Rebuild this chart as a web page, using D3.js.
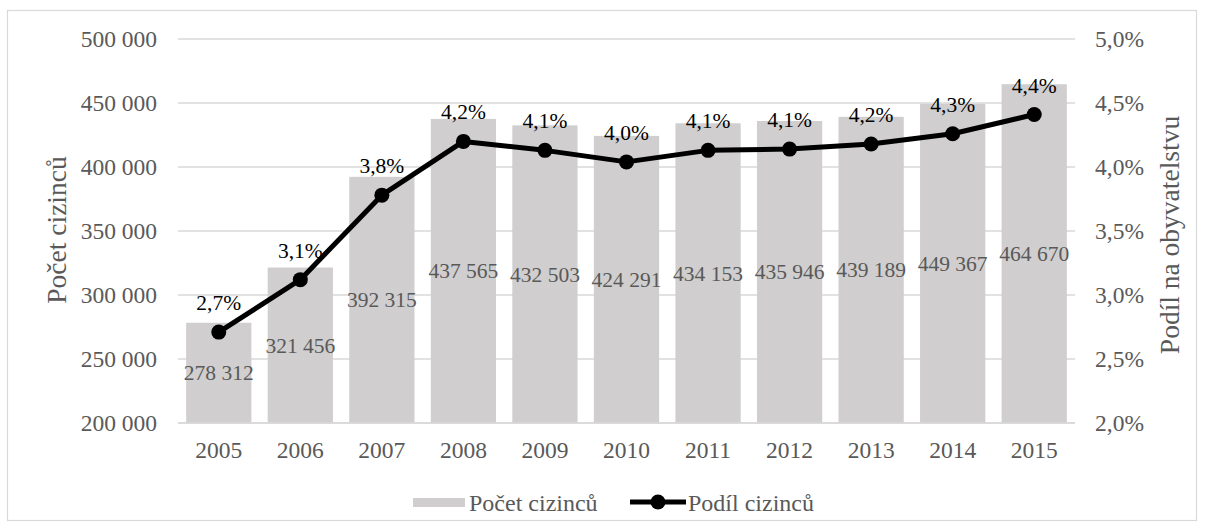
<!DOCTYPE html>
<html><head><meta charset="utf-8">
<script src="https://cdn.jsdelivr.net/npm/d3@7"></script>
<style>
body{margin:0;background:#fff;}
svg, svg text{font-family:'Liberation Serif','Tinos','Times New Roman','Times','Nimbus Roman','Nimbus Roman No9 L','FreeSerif','Noto Serif','DejaVu Serif',serif !important;}
</style></head>
<body><svg id="c" width="1205" height="530"></svg>
<script>
const years = ["2005","2006","2007","2008","2009","2010","2011","2012","2013","2014","2015"];
const counts = [278312,321456,392315,437565,432503,424291,434153,435946,439189,449367,464670];
const shares = [2.71,3.12,3.78,4.20,4.13,4.04,4.13,4.14,4.18,4.26,4.41];
const leftTicks = [200000,250000,300000,350000,400000,450000,500000];
const rightTicks = [2.0,2.5,3.0,3.5,4.0,4.5,5.0];
const barName = "Počet cizinců", lineName = "Podíl cizinců";
const leftTitle = "Počet cizinců", rightTitle = "Podíl na obyvatelstvu";

const svg = d3.select("#c");
const L = 178, R = 1075, T = 39, B = 423;
svg.append("rect").attr("x",7.5).attr("y",10.5).attr("width",1189).attr("height",510)
  .attr("fill","#fff").attr("stroke","#d9d9d9").attr("stroke-width",1.2);

const x = d3.scaleBand().domain(years).range([L,R]).paddingInner(0.2).paddingOuter(0.1);
const yL = d3.scaleLinear().domain([200000,500000]).range([B,T]);
const yR = d3.scaleLinear().domain([2,5]).range([B,T]);
const sp = s => s.replace(/,/g," ");
const fmtN = n => sp(d3.format(",")(n));
const fmtP = (v,d) => d3.format("."+d+"f")(v).replace(".",",")+"%";

svg.append("g").selectAll("line").data(leftTicks).join("line")
  .attr("x1",L).attr("x2",R).attr("y1",d=>yL(d)).attr("y2",d=>yL(d))
  .attr("stroke","#d9d9d9").attr("stroke-width",1.3);

const ax = svg.append("g").attr("transform",`translate(${L},0)`)
  .call(d3.axisLeft(yL).tickValues(leftTicks).tickSize(0).tickPadding(21).tickFormat(fmtN));
ax.select(".domain").remove();
ax.selectAll("text").attr("font-size",23.5).attr("fill","#595959");

const ar = svg.append("g").attr("transform",`translate(${R},0)`)
  .call(d3.axisRight(yR).tickValues(rightTicks).tickSize(0).tickPadding(20).tickFormat(d=>fmtP(d,1)));
ar.select(".domain").remove();
ar.selectAll("text").attr("font-size",23.5).attr("fill","#595959");

svg.append("g").selectAll("rect").data(counts).join("rect")
  .attr("x",(d,i)=>x(years[i])).attr("width",x.bandwidth())
  .attr("y",d=>yL(d)).attr("height",d=>B-yL(d)).attr("fill","#d0cece");

svg.append("line").attr("x1",L).attr("x2",R).attr("y1",B).attr("y2",B)
  .attr("stroke","#d9d9d9").attr("stroke-width",1.3);

const ab = svg.append("g").attr("transform",`translate(0,${B})`)
  .call(d3.axisBottom(x).tickSize(0).tickPadding(18));
ab.select(".domain").remove();
ab.selectAll("text").attr("font-size",23.5).attr("fill","#595959");

svg.append("g").selectAll("text").data(counts).join("text")
  .attr("x",(d,i)=>x(years[i])+x.bandwidth()/2).attr("y",d=>(yL(d)+B)/2+7.5)
  .attr("text-anchor","middle").attr("font-size",21.5).attr("fill","#595959")
  .text(fmtN);

const cx = i => x(years[i])+x.bandwidth()/2;
svg.append("path").datum(shares)
  .attr("d",d3.line().x((d,i)=>cx(i)).y(d=>yR(d)))
  .attr("fill","none").attr("stroke","#000").attr("stroke-width",5).attr("stroke-linejoin","round");
svg.append("g").selectAll("circle").data(shares).join("circle")
  .attr("cx",(d,i)=>cx(i)).attr("cy",d=>yR(d)).attr("r",7.5).attr("fill","#000");
svg.append("g").selectAll("text").data(shares).join("text")
  .attr("x",(d,i)=>cx(i)).attr("y",d=>yR(d)-22)
  .attr("text-anchor","middle").attr("font-size",21.5).attr("fill","#000")
  .text(d=>fmtP(d,1));

svg.append("text").attr("transform","translate(66,230) rotate(-90)")
  .attr("text-anchor","middle").attr("font-size",27.5).attr("fill","#595959").text(leftTitle);
svg.append("text").attr("transform","translate(1179,235) rotate(-90)")
  .attr("text-anchor","middle").attr("font-size",27.5).attr("fill","#595959").text(rightTitle);

const lg = svg.append("g");
lg.append("rect").attr("x",413).attr("y",498).attr("width",52).attr("height",9).attr("fill","#d0cece");
lg.append("text").attr("x",469).attr("y",511).attr("font-size",24).attr("fill","#595959").text(barName);
lg.append("line").attr("x1",630).attr("x2",686).attr("y1",502).attr("y2",502).attr("stroke","#000").attr("stroke-width",5);
lg.append("circle").attr("cx",658).attr("cy",502).attr("r",7.5).attr("fill","#000");
lg.append("text").attr("x",688).attr("y",511).attr("font-size",24).attr("fill","#595959").text(lineName);
</script></body></html>
